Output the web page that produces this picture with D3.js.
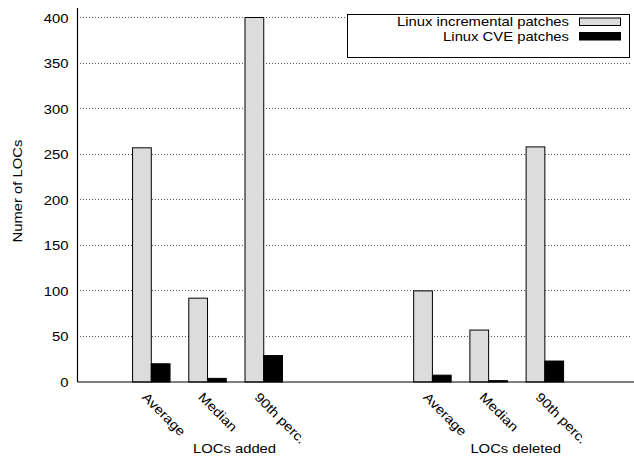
<!DOCTYPE html>
<html><head><meta charset="utf-8">
<script src="https://cdn.jsdelivr.net/npm/d3@7"></script>
<style>
body{margin:0;background:#fff;}
text{font-family:"Liberation Sans",Arial,sans-serif;fill:#000;}
</style></head>
<body><svg id="c" width="634" height="459"></svg>
<script>
const categories = ["Average","Median","90th perc."];
const groups = ["LOCs added","LOCs deleted"];
const incremental = [257, 92, 400, 100, 57, 258];
const cve = [20, 4, 29, 7.5, 1.5, 23];
const slots = [0,1,2,5,6,7];
const yTicks = [0,50,100,150,200,250,300,350,400];
const seriesNames = ["Linux incremental patches","Linux CVE patches"];
const colors = ["#dcdcdc","#000000"];

const svg = d3.select("#c");
const mLeft = 77.5, mRight = 632, mTop = 8, mBottom = 382;
const x = d3.scaleLinear().domain([-1.3125, 8.55]).range([mLeft, mRight]);
const y = d3.scaleLinear().domain([0, 400]).range([mBottom, 17.5]);
const bw = x(1/3) - x(0);
const fs = "13px";
const sx = 1.14;

// grid
svg.append("g").selectAll("line").data(yTicks.filter(d=>d>0)).join("line")
  .attr("x1", mLeft+2).attr("x2", mRight).attr("y1", d=>y(d)).attr("y2", d=>y(d))
  .attr("stroke","#555").attr("stroke-width",1).attr("stroke-dasharray","1,2")
  .attr("shape-rendering","crispEdges");

// y axis
const ya = d3.axisLeft(y).tickValues(yTicks).tickSize(0).tickPadding(8);
const yg = svg.append("g").attr("transform",`translate(${mLeft},0)`).call(ya);
yg.select(".domain").remove();
yg.selectAll("text").style("font-size",fs).attr("dy","0.35em").attr("transform",`scale(${sx},1)`);
svg.append("line").attr("x1",mLeft).attr("x2",mLeft).attr("y1",mTop).attr("y2",mBottom)
  .attr("stroke","#000").attr("stroke-width",1.2);

// bars
const data = slots.map((s,i)=>({s, inc: incremental[i], cve: cve[i], cat: categories[i%3]}));
svg.append("g").selectAll("rect").data(data).join("rect")
  .attr("x", d=>x(d.s)-bw).attr("width", bw)
  .attr("y", d=>y(d.inc)).attr("height", d=>y(0)-y(d.inc))
  .attr("fill", colors[0]).attr("stroke","#000").attr("stroke-width",1);
svg.append("g").selectAll("rect").data(data).join("rect")
  .attr("x", d=>x(d.s)).attr("width", bw)
  .attr("y", d=>y(d.cve)).attr("height", d=>y(0)-y(d.cve))
  .attr("fill", colors[1]).attr("stroke","#000").attr("stroke-width",1);

// x axis line
svg.append("line").attr("x1",mLeft).attr("x2",634).attr("y1",mBottom).attr("y2",mBottom)
  .attr("stroke","#000").attr("stroke-width",1.2);

// x labels
svg.append("g").selectAll("text").data(data).join("text")
  .attr("transform", d=>`translate(${x(d.s)-10},${mBottom+16}) rotate(45) scale(${sx},1)`)
  .style("font-size",fs).text(d=>d.cat);

// group labels
svg.append("g").selectAll("text").data(groups).join("text")
  .attr("transform",(d,i)=>`translate(${x(slots[i*3+1])+27},453) scale(${sx},1)`)
  .attr("text-anchor","middle").style("font-size",fs).text(d=>d);

// y title
svg.append("text").attr("transform",`translate(22,191) rotate(-90) scale(${sx},1)`)
  .attr("text-anchor","middle").style("font-size",fs).text("Numer of LOCs");

// legend
const lg = svg.append("g");
lg.append("rect").attr("x",347.5).attr("y",14.5).attr("width",282).attr("height",43)
  .attr("fill","#fff").attr("stroke","#000").attr("stroke-width",1);
seriesNames.forEach((n,i)=>{
  lg.append("text").attr("transform",`translate(569,${25.5+i*15}) scale(${sx},1)`)
    .attr("text-anchor","end").style("font-size",fs).text(n);
  lg.append("rect").attr("x",579.5).attr("y",18+i*14.5).attr("width",41).attr("height",7.5)
    .attr("fill",colors[i]).attr("stroke","#000").attr("stroke-width",1);
});
</script></body></html>
